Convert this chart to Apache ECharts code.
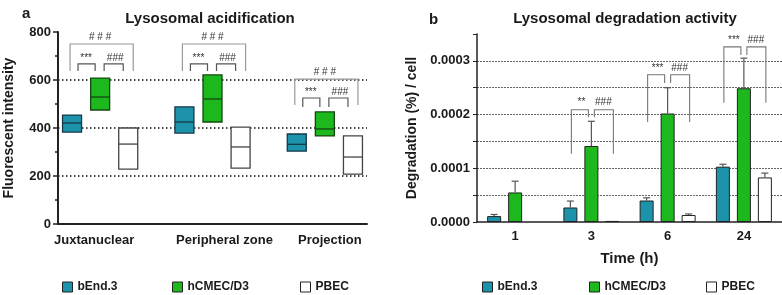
<!DOCTYPE html>
<html>
<head>
<meta charset="utf-8">
<script src="https://cdn.jsdelivr.net/npm/echarts@6/dist/echarts.min.js"></script>
<style>
  html, body { margin: 0; background: #fff; }
  #chart { width: 782px; height: 295px; }
</style>
</head>
<body>
<div id="chart"></div>
<script>
// panel a - fluorescent intensity, [min, median, max] per region
const regions = ['Juxtanuclear', 'Peripheral zone', 'Projection'];
const bEndBox = [[383, 421, 454], [379, 425, 488], [304, 332, 375]];
const hcmecBox = [[475, 529, 608], [425, 521, 621], [367, 396, 467]];
const pbecBox = [[229, 333, 400], [233, 321, 404], [208, 279, 367]];
// significance brackets for panel a (bracket top / leg end)
const bigTop = [750, 750, 604];
const bigLeg = [637, 637, 496];
const smallTop = [667, 667, 525];
const smallLeg = [637, 637, 488];

// panel b - degradation per cell, mean and SD
const times = ['1', '3', '6', '24'];
const bEndDeg = [1.1e-5, 2.7e-5, 4.0e-5, 1.03e-4];
const bEndSd = [0.3e-5, 1.2e-5, 0.5e-5, 0.45e-5];
const hcmecDeg = [5.5e-5, 1.415e-4, 2.02e-4, 2.49e-4];
const hcmecSd = [2.1e-5, 4.6e-5, 4.8e-5, 5.6e-5];
const pbecDeg = ['-', 0.2e-5, 1.3e-5, 8.3e-5];
const pbecSd = [0, 0, 0.2e-5, 0.8e-5];
// brackets for panel b
const sigTime = [1, 2, 3];
const sigTop = [2.09e-4, 2.74e-4, 3.26e-4];
const sigOuter = [1.27e-4, 1.86e-4, 2.22e-4];
const sigInner = [1.95e-4, 2.59e-4, 3.11e-4];
const sigStars = ['**', '***', '***'];

const cellNames = ['bEnd.3', 'hCMEC/D3', 'PBEC'];

const TEAL = '#1d93ab';
const GREEN = '#1db81d';
const FONT = '"Liberation Sans", Arial, sans-serif';
const INK = '#1a1a1a';

// 3 boxes per region + 1 empty slot between regions
const slots = [];
regions.forEach(function (r, g) {
  for (let c = 0; c < 4; c++) {
    if (g === regions.length - 1 && c === 3) break;
    slots.push(r + '_' + c);
  }
});

function boxData(arr, cell) {
  return arr.map(function (d, g) { return [g * 4 + cell, d[0], d[1], d[2]]; });
}

function boxRenderer(fill, stroke) {
  return function (params, api) {
    const lo = api.coord([api.value(0), api.value(1)]);
    const mid = api.coord([api.value(0), api.value(2)]);
    const hi = api.coord([api.value(0), api.value(3)]);
    const w = 19;
    return {
      type: 'group',
      children: [
        { type: 'rect', shape: { x: lo[0] - w / 2, y: hi[1], width: w, height: lo[1] - hi[1] },
          style: { fill: fill, stroke: stroke, lineWidth: 1.3 } },
        { type: 'line', shape: { x1: lo[0] - w / 2, y1: mid[1], x2: lo[0] + w / 2, y2: mid[1] },
          style: { stroke: stroke, lineWidth: 1.3 } }
      ]
    };
  };
}

function starText(text, x, y, size) {
  return { type: 'text', style: { text: text, x: x, y: y, align: 'center', verticalAlign: 'bottom',
    fontSize: size, fontFamily: FONT, fill: '#333' } };
}

// brackets panel a
function renderLeftSig(params, api) {
  const g = api.value(0);
  const s0 = g * 4;
  const x0 = api.coord([s0, 0])[0];
  const x1 = api.coord([s0 + 1, 0])[0];
  const x2 = api.coord([s0 + 2, 0])[0];
  const bt = api.coord([s0, api.value(1)])[1];
  const bl = api.coord([s0, api.value(2)])[1];
  const st = api.coord([s0, api.value(3)])[1];
  const sl = api.coord([s0, api.value(4)])[1];
  const grey = { stroke: '#9a9a9a', lineWidth: 1.2, fill: null };
  const dark = { stroke: '#555', lineWidth: 1.2, fill: null };
  return {
    type: 'group',
    children: [
      { type: 'polyline', shape: { points: [[x0 - 2, bl], [x0 - 2, bt], [x2 + 5, bt], [x2 + 5, bl]] }, style: grey },
      { type: 'polyline', shape: { points: [[x0 + 6, sl], [x0 + 6, st], [x1 - 5, st], [x1 - 5, sl]] }, style: dark },
      { type: 'polyline', shape: { points: [[x1 + 4, sl], [x1 + 4, st], [x2 - 5, st], [x2 - 5, sl]] }, style: dark },
      starText('# # #', (x0 + x2) / 2, bt - 2, 10),
      starText('***', (x0 + x1) / 2, st - 1, 10),
      starText('###', (x1 + x2) / 2 + 1, st - 1, 10)
    ]
  };
}

// error bars panel b: [time, barIndex, mean, sd]
const errData = [];
[[bEndDeg, bEndSd], [hcmecDeg, hcmecSd], [pbecDeg, pbecSd]].forEach(function (pair, k) {
  pair[0].forEach(function (v, t) {
    if (v !== '-' && pair[1][t] > 0) errData.push([t, k, v, pair[1][t]]);
  });
});
const BAR_W = 14;
const BAR_STEP = 21;

function renderErr(params, api) {
  const t = api.value(0);
  const off = (api.value(1) - 1) * BAR_STEP;
  const base = api.coord([t, api.value(2)]);
  const top = api.coord([t, api.value(2) + api.value(3)]);
  const x = base[0] + off;
  const st = { stroke: '#555', lineWidth: 1.2 };
  return {
    type: 'group',
    children: [
      { type: 'line', shape: { x1: x, y1: base[1], x2: x, y2: top[1] }, style: st },
      { type: 'line', shape: { x1: x - 3.5, y1: top[1], x2: x + 3.5, y2: top[1] }, style: st }
    ]
  };
}

function renderRightSig(params, api) {
  const t = api.value(0);
  const c = api.coord([t, 0])[0];
  const top = api.coord([t, api.value(1)])[1];
  const outer = api.coord([t, api.value(2)])[1];
  const inner = api.coord([t, api.value(3)])[1];
  const st = { stroke: '#777', lineWidth: 1.1, fill: null };
  return {
    type: 'group',
    children: [
      { type: 'polyline', shape: { points: [[c - BAR_STEP + 1, outer], [c - BAR_STEP + 1, top], [c - 3, top], [c - 3, inner]] }, style: st },
      { type: 'polyline', shape: { points: [[c + 3, inner], [c + 3, top], [c + BAR_STEP + 1, top], [c + BAR_STEP + 1, outer]] }, style: st },
      starText(sigStars[params.dataIndex], c - 10, top - 2, 10),
      starText('###', c + 12, top - 2, 10)
    ]
  };
}

const axisText = { color: INK, fontWeight: 'bold', fontSize: 13, fontFamily: FONT };
const nameText = { color: INK, fontWeight: 'bold', fontSize: 14, fontFamily: FONT };

// one legend entry each, so the spacing can follow the figure
const legendLeftPos = [57, 167, 295];
const legendRightPos = [477, 584, 701];
function legendItem(name, left) {
  return {
    icon: 'rect', itemWidth: 10, itemHeight: 10, top: 276, left: left,
    itemStyle: { borderColor: '#222', borderWidth: 1 },
    textStyle: { color: INK, fontWeight: 'bold', fontSize: 12, fontFamily: FONT },
    selectedMode: false,
    data: [name]
  };
}
const legends = [];
cellNames.forEach(function (n, i) {
  legends.push(legendItem(n, legendLeftPos[i]));
  legends.push(legendItem(n, legendRightPos[i]));
});

var chart = echarts.init(document.getElementById('chart'), null, { renderer: 'canvas' });

chart.setOption({
  animation: false,
  backgroundColor: '#fff',
  textStyle: { fontFamily: FONT },
  title: [
    { text: 'a', left: 17, top: 1, textStyle: { fontSize: 15, fontWeight: 'bold', color: INK, fontFamily: FONT } },
    { text: 'Lysosomal acidification', left: 205, top: 6, textAlign: 'center',
      textStyle: { fontSize: 15, fontWeight: 'bold', color: INK, fontFamily: FONT } },
    { text: 'b', left: 424, top: 7, textStyle: { fontSize: 15, fontWeight: 'bold', color: INK, fontFamily: FONT } },
    { text: 'Lysosomal degradation activity', left: 620, top: 6, textAlign: 'center',
      textStyle: { fontSize: 15, fontWeight: 'bold', color: INK, fontFamily: FONT } }
  ],
  legend: legends,
  grid: [
    { left: 58, top: 32, width: 309, height: 192, outerBoundsMode: 'none' },
    { left: 477, top: 34, width: 305, height: 188, outerBoundsMode: 'none' }
  ],
  xAxis: [
    {
      type: 'category', gridIndex: 0, data: slots, boundaryGap: true,
      axisLine: { lineStyle: { color: '#222', width: 2 } },
      axisTick: { alignWithLabel: true, length: 4, lineStyle: { color: '#222', width: 1.5 },
        interval: function (i) { return i % 4 !== 3; } },
      axisLabel: Object.assign({}, axisText, {
        interval: 0, margin: 10,
        formatter: function (v, i) {
          return i % 4 === 1 ? '{g' + ((i - 1) / 4) + '|' + regions[(i - 1) / 4] + '}' : '';
        },
        rich: {
          g0: Object.assign({}, axisText, { padding: [0, 12, 0, 0] }),
          g1: Object.assign({}, axisText, { padding: [0, 0, 0, 24] }),
          g2: Object.assign({}, axisText, { padding: [0, 0, 0, 10] })
        }
      }),
      splitLine: { show: false }
    },
    {
      type: 'category', gridIndex: 1, data: times, boundaryGap: true,
      name: 'Time (h)', nameLocation: 'middle', nameGap: 29,
      nameTextStyle: Object.assign({}, nameText, { fontSize: 15 }),
      axisLine: { lineStyle: { color: '#222', width: 1.5 } },
      axisTick: { alignWithLabel: true, length: 3, lineStyle: { color: '#222' } },
      axisLabel: Object.assign({}, axisText, { margin: 8 }),
      splitLine: { show: false }
    }
  ],
  yAxis: [
    {
      type: 'value', gridIndex: 0, min: 0, max: 800, interval: 200,
      name: 'Fluorescent intensity', nameLocation: 'middle', nameGap: 42, nameTextStyle: nameText,
      axisLine: { show: true, lineStyle: { color: '#222', width: 2 } },
      axisTick: { show: true, length: 5, lineStyle: { color: '#222', width: 1.5 } },
      minorTick: { show: true, splitNumber: 2, length: 3, lineStyle: { color: '#222', width: 1.5 } },
      axisLabel: Object.assign({}, axisText, { margin: 7 }),
      splitLine: { show: true, showMinLine: false, showMaxLine: false,
        lineStyle: { color: '#111', type: [1.5, 2.5], width: 1.5 } }
    },
    {
      type: 'value', gridIndex: 1, min: 0, max: 0.00035, interval: 0.00005,
      name: 'Degradation (%) / cell', nameLocation: 'middle', nameGap: 58, nameTextStyle: nameText,
      axisLine: { show: true, lineStyle: { color: '#222', width: 1.5 } },
      axisTick: { show: true, length: 4, lineStyle: { color: '#222' } },
      axisLabel: Object.assign({}, axisText, {
        margin: 7,
        formatter: function (v) { return Math.round(v * 1e5) % 10 === 0 ? v.toFixed(4) : ''; }
      }),
      splitLine: { show: true, showMinLine: false, showMaxLine: false,
        lineStyle: { color: '#666', type: [2, 1], width: 1 } }
    }
  ],
  series: [
    { name: 'bEnd.3', type: 'custom', xAxisIndex: 0, yAxisIndex: 0, itemStyle: { color: TEAL },
      renderItem: boxRenderer(TEAL, '#16384a'), data: boxData(bEndBox, 0) },
    { name: 'hCMEC/D3', type: 'custom', xAxisIndex: 0, yAxisIndex: 0, itemStyle: { color: GREEN },
      renderItem: boxRenderer(GREEN, '#124812'), data: boxData(hcmecBox, 1) },
    { name: 'PBEC', type: 'custom', xAxisIndex: 0, yAxisIndex: 0, itemStyle: { color: '#fff' },
      renderItem: boxRenderer('#fff', '#444'), data: boxData(pbecBox, 2) },
    { name: 'sigA', type: 'custom', xAxisIndex: 0, yAxisIndex: 0, silent: true, renderItem: renderLeftSig,
      data: regions.map(function (r, g) { return [g, bigTop[g], bigLeg[g], smallTop[g], smallLeg[g]]; }) },

    { name: 'bEnd.3', type: 'bar', xAxisIndex: 1, yAxisIndex: 1, data: bEndDeg, barWidth: BAR_W, barGap: '50%',
      itemStyle: { color: TEAL, borderColor: '#222', borderWidth: 1 } },
    { name: 'hCMEC/D3', type: 'bar', xAxisIndex: 1, yAxisIndex: 1, data: hcmecDeg, barWidth: BAR_W, barGap: '50%',
      itemStyle: { color: GREEN, borderColor: '#222', borderWidth: 1 } },
    { name: 'PBEC', type: 'bar', xAxisIndex: 1, yAxisIndex: 1, data: pbecDeg, barWidth: BAR_W, barGap: '50%',
      itemStyle: { color: '#fff', borderColor: '#222', borderWidth: 1 } },
    { name: 'err', type: 'custom', xAxisIndex: 1, yAxisIndex: 1, silent: true, renderItem: renderErr, data: errData, z: 3 },
    { name: 'sigB', type: 'custom', xAxisIndex: 1, yAxisIndex: 1, silent: true, renderItem: renderRightSig,
      data: sigTime.map(function (t, i) { return [t, sigTop[i], sigOuter[i], sigInner[i]]; }) }
  ]
});
</script>
</body>
</html>
